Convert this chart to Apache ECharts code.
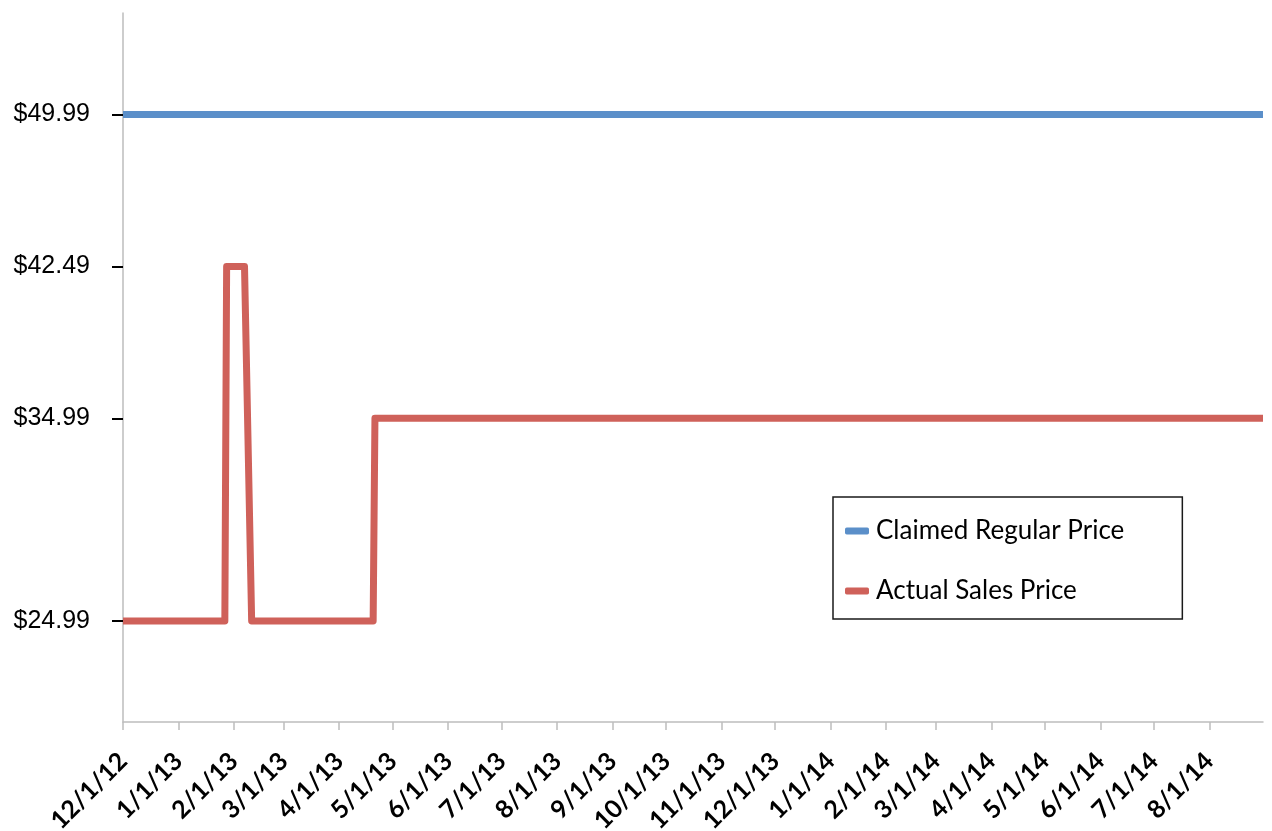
<!DOCTYPE html>
<html>
<head>
<meta charset="utf-8">
<script src="https://cdn.jsdelivr.net/npm/echarts@6/dist/echarts.min.js"></script>
<style>
  html, body { margin: 0; padding: 0; background: #ffffff; }
  #chart { width: 1272px; height: 831px; }
</style>
</head>
<body>
<div id="chart"></div>
<script>
// Price history (date, price) at each recorded change
const seriesNames = ['Claimed Regular Price', 'Actual Sales Price'];
const regularDates = ['2012-12-01', '2014-08-31'];
const regularPrices = [49.99, 49.99];
const salesDates = ['2012-12-01', '2013-01-27', '2013-01-28', '2013-02-07', '2013-02-11', '2013-04-20', '2013-04-21', '2014-08-31'];
const salesPrices = [24.99, 24.99, 42.49, 42.49, 24.99, 24.99, 34.99, 34.99];

// Axis ticks
const priceTicks = [24.99, 34.99, 42.49, 49.99];
const monthTicks = ['2012-12-01', '2013-01-01', '2013-02-01', '2013-03-01', '2013-04-01', '2013-05-01',
  '2013-06-01', '2013-07-01', '2013-08-01', '2013-09-01', '2013-10-01', '2013-11-01', '2013-12-01',
  '2014-01-01', '2014-02-01', '2014-03-01', '2014-04-01', '2014-05-01', '2014-06-01', '2014-07-01', '2014-08-01'];
const monthLabels = ['12/1/12', '1/1/13', '2/1/13', '3/1/13', '4/1/13', '5/1/13', '6/1/13', '7/1/13', '8/1/13',
  '9/1/13', '10/1/13', '11/1/13', '12/1/13', '1/1/14', '2/1/14', '3/1/14', '4/1/14', '5/1/14', '6/1/14',
  '7/1/14', '8/1/14'];
const axisStart = '2012-12-01';
const axisEnd = '2014-08-31';

// Dates are placed as whole days since the axis start
const DAY = 86400000;
function toDay(s) {
  const p = s.split('-').map(Number);
  const a = axisStart.split('-').map(Number);
  return Math.round((Date.UTC(p[0], p[1] - 1, p[2]) - Date.UTC(a[0], a[1] - 1, a[2])) / DAY);
}
const tickDays = monthTicks.map(toDay);
function pairs(dates, values) {
  return dates.map((d, i) => [toDay(d), values[i]]);
}

const chart = echarts.init(document.getElementById('chart'), null, { renderer: 'canvas' });
chart.setOption({
  backgroundColor: '#ffffff',
  animation: false,
  grid: { left: 123, right: 9, top: 13, bottom: 109, containLabel: false, outerBoundsMode: 'none' },
  legend: {
    orient: 'vertical',
    left: 833,
    top: 497,
    data: seriesNames,
    icon: 'roundRect',
    itemWidth: 24,
    itemHeight: 7,
    itemGap: 34,
    padding: [21, 58, 15, 12],
    borderColor: '#1a1a1a',
    borderWidth: 1.5,
    borderRadius: 0,
    textStyle: { fontFamily: 'Lato', fontSize: 26, color: '#000000', padding: [0, 0, 0, 2] }
  },
  xAxis: {
    type: 'value',
    min: toDay(axisStart),
    max: toDay(axisEnd),
    splitLine: { show: false },
    axisLine: { show: true, lineStyle: { color: '#bdbdbd', width: 1.5 } },
    axisTick: { show: true, customValues: tickDays, length: 8, lineStyle: { color: '#bdbdbd', width: 1.5 } },
    axisLabel: {
      customValues: tickDays,
      rotate: 45,
      margin: 35,
      fontFamily: 'Lato',
      fontWeight: 'bold',
      fontSize: 25,
      color: '#000000',
      hideOverlap: false,
      formatter: function (v) {
        const i = tickDays.indexOf(v);
        return i >= 0 ? monthLabels[i] : '';
      }
    }
  },
  yAxis: {
    type: 'value',
    min: 20,
    max: 55,
    splitLine: { show: false },
    axisLine: { show: true, lineStyle: { color: '#bdbdbd', width: 1.5 } },
    axisTick: { show: true, customValues: priceTicks, length: 11, lineStyle: { color: '#000000', width: 2 } },
    axisLabel: {
      customValues: priceTicks,
      margin: 33,
      fontFamily: 'Liberation Sans',
      fontSize: 25,
      color: '#000000',
      formatter: function (v) { return '$' + v.toFixed(2); }
    }
  },
  series: [
    {
      name: seriesNames[0],
      type: 'line',
      data: pairs(regularDates, regularPrices),
      symbol: 'none',
      color: '#5b8fc9',
      lineStyle: { width: 7, color: '#5b8fc9', join: 'round', cap: 'butt' }
    },
    {
      name: seriesNames[1],
      type: 'line',
      data: pairs(salesDates, salesPrices),
      symbol: 'none',
      color: '#cf615a',
      lineStyle: { width: 7, color: '#cf615a', join: 'round', cap: 'butt' }
    }
  ]
});
</script>
</body>
</html>
